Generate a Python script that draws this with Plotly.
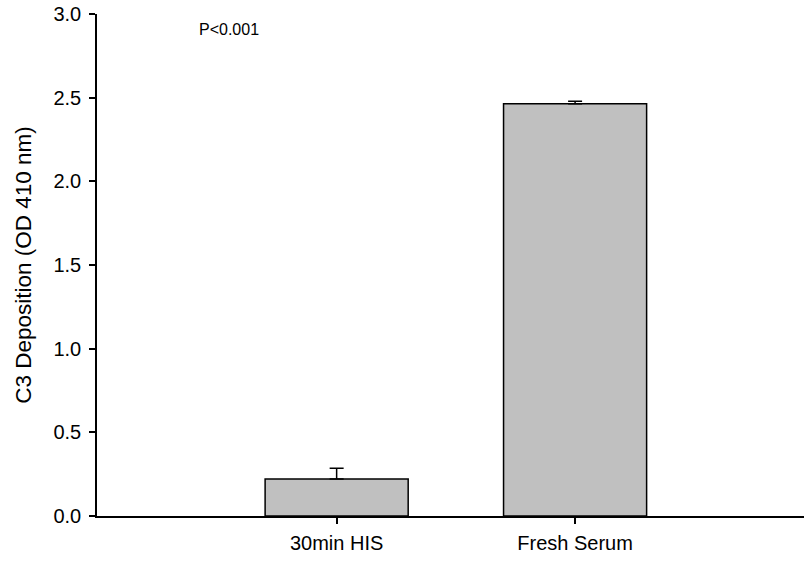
import plotly.graph_objects as go

# C3 deposition measured by ELISA (OD 410 nm), mean with upper SEM
groups = ["30min HIS", "Fresh Serum"]
od_means = [0.221, 2.463]
od_errors = [0.064, 0.016]
y_ticks = [0.0, 0.5, 1.0, 1.5, 2.0, 2.5, 3.0]
y_tick_labels = ["0.0", "0.5", "1.0", "1.5", "2.0", "2.5", "3.0"]
p_label = "P<0.001"

FONT = "Liberation Sans, Arial, sans-serif"

fig = go.Figure(
    go.Bar(
        x=groups,
        y=od_means,
        width=0.6,
        marker=dict(color="#c0c0c0", line=dict(color="black", width=1.5)),
        error_y=dict(
            type="data",
            array=od_errors,
            arrayminus=[0 for _ in od_errors],
            symmetric=False,
            color="black",
            thickness=1.5,
            width=7,
        ),
    )
)

fig.add_annotation(
    text=p_label,
    xref="paper",
    yref="y",
    x=0.142,
    y=2.91,
    xanchor="left",
    yanchor="middle",
    showarrow=False,
    font=dict(family=FONT, size=16, color="black"),
)

fig.update_layout(
    width=804,
    height=562,
    margin=dict(l=97, r=0, t=14, b=46),
    paper_bgcolor="white",
    plot_bgcolor="white",
    showlegend=False,
    font=dict(family=FONT, color="black"),
    bargap=0.4,
)

fig.update_xaxes(
    type="category",
    range=[-1.005, 1.96],
    showline=True,
    linecolor="black",
    linewidth=1.5,
    ticks="outside",
    ticklen=6,
    tickwidth=1.5,
    tickcolor="black",
    tickfont=dict(family=FONT, size=20, color="black"),
    ticklabelstandoff=2,
    showgrid=False,
    zeroline=False,
)

fig.update_yaxes(
    range=[0, 3.0],
    tickvals=y_ticks,
    ticktext=y_tick_labels,
    showline=True,
    linecolor="black",
    linewidth=1.5,
    ticks="outside",
    ticklen=6,
    tickwidth=1.5,
    tickcolor="black",
    tickfont=dict(family=FONT, size=20, color="black"),
    ticklabelstandoff=4,
    showgrid=False,
    zeroline=False,
    title=dict(
        text="C3 Deposition (OD 410 nm)",
        font=dict(family=FONT, size=22.5, color="black"),
        standoff=16,
    ),
)

fig.write_html("out.html")
